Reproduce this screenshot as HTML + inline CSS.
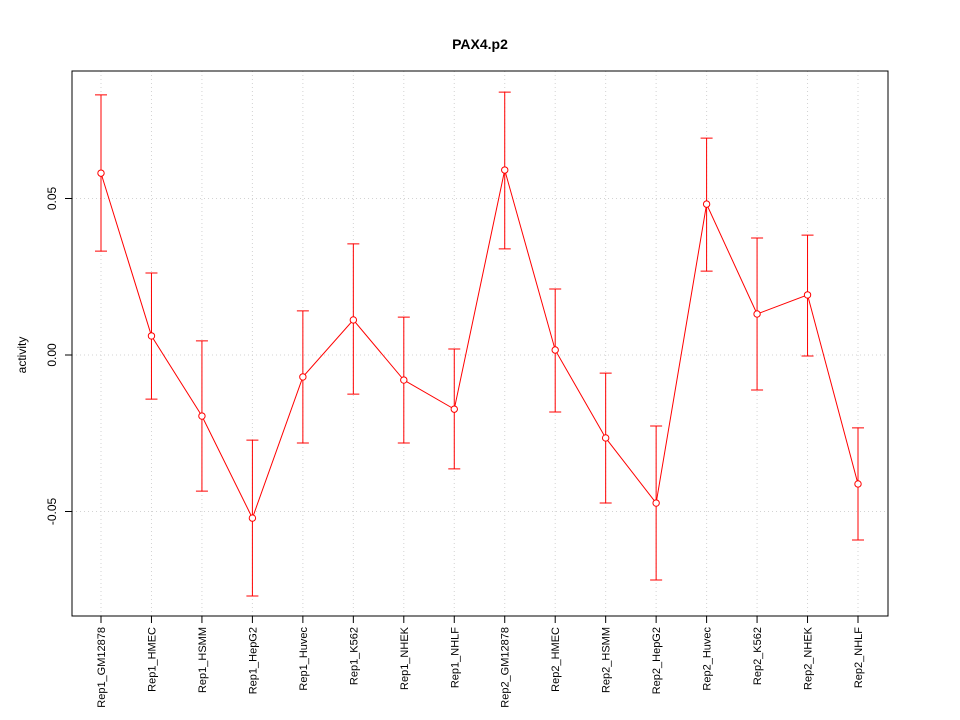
<!DOCTYPE html>
<html><head><meta charset="utf-8"><style>
body{margin:0;background:#fff}
svg{display:block;font-family:"Liberation Sans",Arial,sans-serif}
</style></head><body>
<svg id="chart" width="960" height="720" viewBox="0 0 960 720">
<rect width="960" height="720" fill="#fff"/>
<text x="480" y="49" text-anchor="middle" font-size="14" font-weight="bold">PAX4.p2</text>
<text transform="translate(26,355) rotate(-90)" text-anchor="middle" font-size="12">activity</text>
<g id="grid"></g><g id="axes"></g><g id="marks"></g>
<rect x="72" y="71" width="816" height="545" fill="none" stroke="#000"/>
</svg>
<script>
const categories=["Rep1_GM12878","Rep1_HMEC","Rep1_HSMM","Rep1_HepG2","Rep1_Huvec","Rep1_K562","Rep1_NHEK","Rep1_NHLF","Rep2_GM12878","Rep2_HMEC","Rep2_HSMM","Rep2_HepG2","Rep2_Huvec","Rep2_K562","Rep2_NHEK","Rep2_NHLF"];
const values=[0.0581,0.0061,-0.0195,-0.0521,-0.0070,0.0112,-0.0080,-0.0173,0.0591,0.0016,-0.0265,-0.0473,0.0482,0.0131,0.0192,-0.0412];
const upper=[0.0831,0.0262,0.0045,-0.0272,0.0141,0.0355,0.0121,0.0019,0.0840,0.0211,-0.0058,-0.0227,0.0693,0.0374,0.0383,-0.0233];
const lower=[0.0332,-0.0141,-0.0435,-0.0770,-0.0281,-0.0125,-0.0281,-0.0364,0.0339,-0.0182,-0.0473,-0.0719,0.0268,-0.0112,-0.0003,-0.0591];
const yTicks=[-0.05,0,0.05];
const yTickLabels=["-0.05","0.00","0.05"];
const NS="http://www.w3.org/2000/svg";
const xS=i=>101+i*(858-101)/(categories.length-1);
const yS=v=>355-v*3130;
function mk(tag,attrs,parent){const e=document.createElementNS(NS,tag);for(const k in attrs)e.setAttribute(k,attrs[k]);document.getElementById(parent).appendChild(e);return e;}
categories.forEach((c,i)=>{
 const g=mk("line",{x1:xS(i),x2:xS(i),y1:71,y2:616,stroke:"#d3d3d3","stroke-dasharray":"1,3"},"grid");
 
 
 const t=mk("line",{x1:xS(i),x2:xS(i),y1:616,y2:623,stroke:"#000"},"axes");
 
 
 const l=mk("text",{transform:`translate(${xS(i)+4},627) rotate(-90)`,"text-anchor":"end","font-size":"11"},"axes");
 l.textContent=c;
 
 
});
yTicks.forEach((v,i)=>{
 const g=mk("line",{x1:72,x2:888,y1:yS(v),y2:yS(v),stroke:"#d3d3d3","stroke-dasharray":"1,3"},"grid");
 
 
 const t=mk("line",{x1:65,x2:72,y1:yS(v),y2:yS(v),stroke:"#000"},"axes");
 
 
 const l=mk("text",{transform:`translate(56,${yS(v)}) rotate(-90)`,"text-anchor":"middle","font-size":"12"},"axes");
 l.textContent=yTickLabels[i];
 
 
});
const line=mk("polyline",{points:values.map((v,i)=>xS(i)+","+yS(v)).join(" "),fill:"none",stroke:"#ff0000"},"marks");


values.forEach((v,i)=>{
 const x=xS(i);
 const e=mk("path",{d:`M${x},${yS(lower[i])}V${yS(upper[i])}M${x-6},${yS(upper[i])}H${x+6}M${x-6},${yS(lower[i])}H${x+6}`,stroke:"#ff0000",fill:"none"},"marks");
 
 
 const p=mk("circle",{cx:x,cy:yS(v),r:3.2,fill:"#fff",stroke:"#ff0000"},"marks");
 
 
});
</script>
</body></html>
